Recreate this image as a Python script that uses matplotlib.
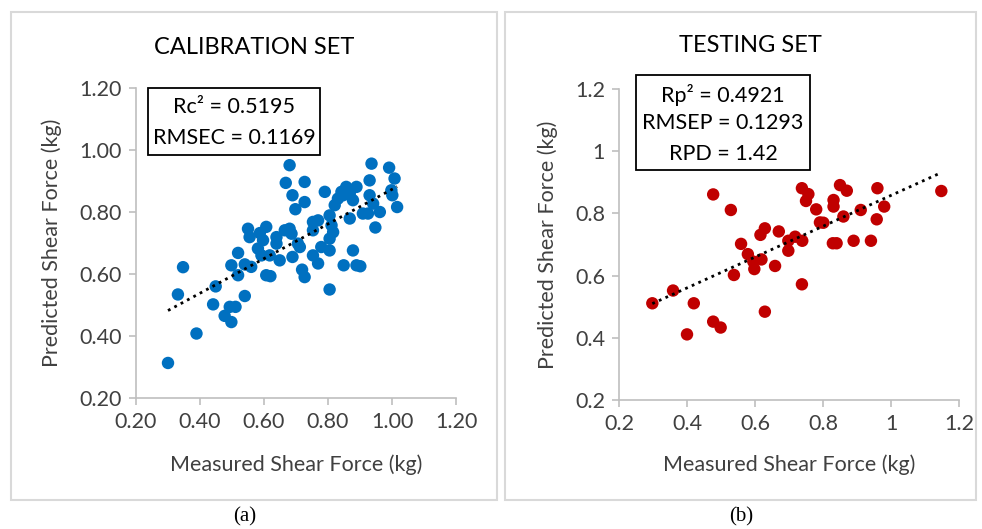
import numpy as np
import matplotlib
matplotlib.use("Agg")
import matplotlib.pyplot as plt
from matplotlib.patches import Rectangle

plt.rcParams['font.family'] = ['Lato', 'DejaVu Sans']

# calibration set (measured, predicted)
cal_measured = [0.300, 0.389, 0.347, 0.331, 0.441, 0.449, 0.477, 0.498, 0.493, 0.511,
                0.540, 0.519, 0.498, 0.519, 0.540, 0.560, 0.550, 0.555, 0.587, 0.607,
                0.597, 0.581, 0.592, 0.618, 0.607, 0.620, 0.639, 0.639, 0.649, 0.665,
                0.680, 0.686, 0.680, 0.668, 0.689, 0.698, 0.727, 0.727, 0.706, 0.712,
                0.689, 0.719, 0.727, 0.753, 0.769, 0.753, 0.769, 0.753, 0.790, 0.805,
                0.811, 0.816, 0.805, 0.779, 0.805, 0.805, 0.821, 0.831, 0.842, 0.857,
                0.868, 0.878, 0.889, 0.847, 0.868, 0.878, 0.849, 0.889, 0.901, 0.909,
                0.925, 0.930, 0.936, 0.930, 0.941, 0.962, 0.948, 0.991, 1.008, 0.998,
                1.001, 1.016]
cal_predicted = [0.313, 0.408, 0.622, 0.534, 0.502, 0.560, 0.465, 0.445, 0.494, 0.494,
                 0.529, 0.668, 0.628, 0.596, 0.631, 0.623, 0.746, 0.719, 0.732, 0.752,
                 0.709, 0.682, 0.660, 0.660, 0.596, 0.593, 0.719, 0.698, 0.644, 0.741,
                 0.746, 0.730, 0.951, 0.894, 0.854, 0.809, 0.897, 0.832, 0.698, 0.687,
                 0.655, 0.614, 0.590, 0.660, 0.634, 0.768, 0.773, 0.741, 0.865, 0.789,
                 0.757, 0.735, 0.714, 0.687, 0.676, 0.550, 0.822, 0.843, 0.865, 0.881,
                 0.859, 0.838, 0.881, 0.854, 0.779, 0.676, 0.628, 0.628, 0.625, 0.795,
                 0.795, 0.902, 0.956, 0.854, 0.827, 0.800, 0.750, 0.943, 0.908, 0.870,
                 0.854, 0.816]

# testing set (measured, predicted)
test_measured = [0.298, 0.359, 0.420, 0.400, 0.477, 0.499, 0.477, 0.529, 0.538, 0.559,
                 0.579, 0.595, 0.598, 0.619, 0.616, 0.629, 0.629, 0.659, 0.670, 0.698,
                 0.698, 0.718, 0.739, 0.738, 0.738, 0.757, 0.750, 0.780, 0.791, 0.801,
                 0.831, 0.831, 0.829, 0.840, 0.850, 0.870, 0.860, 0.890, 0.911, 0.941,
                 0.960, 0.958, 0.980, 1.148]
test_predicted = [0.511, 0.552, 0.511, 0.411, 0.452, 0.433, 0.861, 0.811, 0.602, 0.702,
                  0.669, 0.645, 0.621, 0.652, 0.731, 0.752, 0.484, 0.631, 0.742, 0.712,
                  0.680, 0.725, 0.712, 0.572, 0.881, 0.862, 0.840, 0.813, 0.771, 0.770,
                  0.843, 0.822, 0.704, 0.704, 0.891, 0.873, 0.790, 0.712, 0.811, 0.712,
                  0.881, 0.781, 0.822, 0.872]

cal_ticks = [0.2, 0.4, 0.6, 0.8, 1.0, 1.2]
cal_text = ["Rc\u00b2 = 0.5195", "RMSEC = 0.1169"]
test_text = ["Rp\u00b2 = 0.4921", "RMSEP = 0.1293", "RPD = 1.42"]

W, H = 982, 529
fig = plt.figure(figsize=(W / 100, H / 100), dpi=100)

TXT = '#404040'
GRID = '#BFBFBF'
FS = 15.5


def panel_frame(x0, y0, x1, y1):
    fig.patches.append(Rectangle((x0 / W, 1 - y1 / H), (x1 - x0) / W, (y1 - y0) / H,
                                 transform=fig.transFigure, fill=False,
                                 edgecolor='#D9D9D9', linewidth=1.5))


def style_axes(ax, fmt):
    for s in ['top', 'right']:
        ax.spines[s].set_visible(False)
    for s in ['left', 'bottom']:
        ax.spines[s].set_color(GRID)
        ax.spines[s].set_linewidth(1.2)
    ax.set_xlim(0.2, 1.2)
    ax.set_ylim(0.2, 1.2)
    ax.set_xticks(cal_ticks)
    ax.set_yticks(cal_ticks)
    ax.set_xticklabels([fmt(t) for t in cal_ticks])
    ax.set_yticklabels([fmt(t) for t in cal_ticks])
    ax.tick_params(length=5, width=1.2, color=GRID, labelcolor=TXT, labelsize=FS, pad=5)
    ax.set_xlabel("Measured Shear Force (kg)", fontsize=FS, color=TXT)
    ax.set_ylabel("Predicted Shear Force (kg)", fontsize=FS, color=TXT)
    ax.xaxis.label.set_verticalalignment('center')
    ax.yaxis.label.set_verticalalignment('center')


def trend(ax, x, y):
    k, b = np.polyfit(x, y, 1)
    xs = np.array([min(x), max(x)])
    ax.plot(xs, k * xs + b, linestyle=(0, (1, 1.6)), color='black', linewidth=2)


# ---- left: calibration
panel_frame(11, 12, 497, 500)
ax1 = fig.add_axes([136 / W, 1 - 398 / H, 320 / W, 310 / H])
style_axes(ax1, lambda t: f"{t:.2f}")
ax1.scatter(cal_measured, cal_predicted, s=80, color='#0070C0', edgecolors='none', zorder=2)
trend(ax1, cal_measured, cal_predicted)
ax1.xaxis.set_label_coords(0.5, -0.216)
ax1.yaxis.set_label_coords(-0.262, 0.5)
ax1.add_patch(Rectangle((0.0375, 0.784), 0.5375, 0.216, transform=ax1.transAxes,
                        fill=False, edgecolor='black', linewidth=1.3, clip_on=False))
for yy, s in zip([0.939, 0.839], cal_text):
    ax1.text(0.306, yy, s, transform=ax1.transAxes, ha='center', va='center',
             fontsize=FS, color='black')
fig.text(254 / W, 1 - 47 / H, "CALIBRATION SET", ha='center', va='center',
         fontsize=17, color='black')
fig.text(245 / W, 1 - 517 / H, "(a)", ha='center', va='center', fontsize=15,
         family=['Liberation Serif'])

# ---- right: testing
panel_frame(505, 12, 976, 500)
ax2 = fig.add_axes([619 / W, 1 - 400 / H, 340 / W, 311 / H])
style_axes(ax2, lambda t: f"{t:g}")
ax2.scatter(test_measured, test_predicted, s=80, color='#C00000', edgecolors='none', zorder=2)
trend(ax2, test_measured, test_predicted)
ax2.xaxis.set_label_coords(0.5, -0.209)
ax2.yaxis.set_label_coords(-0.209, 0.5)
ax2.add_patch(Rectangle((0.05, 0.740), 0.512, 0.305, transform=ax2.transAxes,
                        fill=False, edgecolor='black', linewidth=1.3, clip_on=False))
for yy, s in zip([0.981, 0.891, 0.791], test_text):
    ax2.text(0.306, yy, s, transform=ax2.transAxes, ha='center', va='center',
             fontsize=FS, color='black')
fig.text(750 / W, 1 - 46 / H, "TESTING SET", ha='center', va='center',
         fontsize=17, color='black')
fig.text(741 / W, 1 - 517 / H, "(b)", ha='center', va='center', fontsize=15,
         family=['Liberation Serif'])

fig.savefig("out.png", dpi=100)
